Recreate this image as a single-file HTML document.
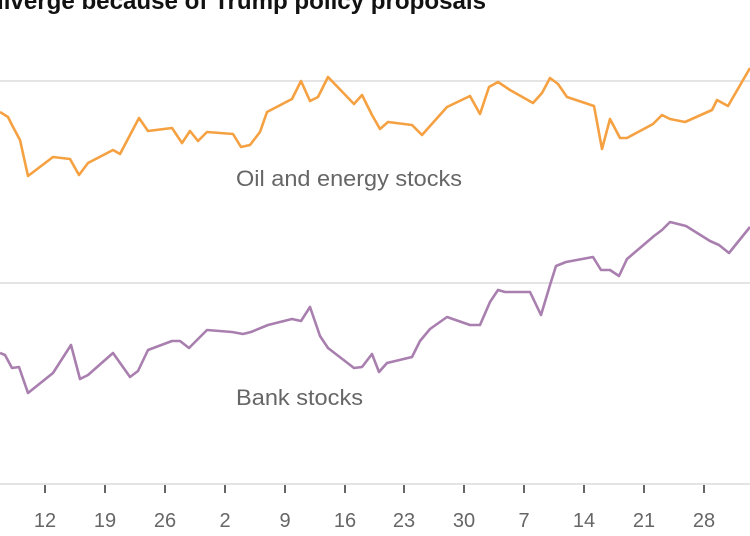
<!DOCTYPE html>
<html><head><meta charset="utf-8"><style>html,body{margin:0;padding:0;background:#fff;overflow:hidden}</style></head>
<body>
<svg width="750" height="536" xmlns="http://www.w3.org/2000/svg" style="display:block">
<text x="-11" y="9" font-family="Liberation Sans, sans-serif" font-weight="bold" font-size="24" fill="#121212" textLength="497" lengthAdjust="spacingAndGlyphs">diverge because of Trump policy proposals</text>
<g stroke="#dcdcdc" stroke-width="1.5">
<line x1="0" y1="81" x2="750" y2="81"/>
<line x1="0" y1="283" x2="750" y2="283"/>
<line x1="0" y1="484" x2="750" y2="484"/>
</g>
<g stroke="#333" stroke-width="1.5">
<line x1="45" y1="485" x2="45" y2="493"/><line x1="105" y1="485" x2="105" y2="493"/><line x1="165" y1="485" x2="165" y2="493"/><line x1="225" y1="485" x2="225" y2="493"/><line x1="285" y1="485" x2="285" y2="493"/><line x1="345" y1="485" x2="345" y2="493"/><line x1="404" y1="485" x2="404" y2="493"/><line x1="464" y1="485" x2="464" y2="493"/><line x1="524" y1="485" x2="524" y2="493"/><line x1="584" y1="485" x2="584" y2="493"/><line x1="644" y1="485" x2="644" y2="493"/><line x1="704" y1="485" x2="704" y2="493"/>
</g>
<g font-family="Liberation Sans, sans-serif" font-size="20" fill="#666" text-anchor="middle">
<text x="45" y="527">12</text><text x="105" y="527">19</text><text x="165" y="527">26</text><text x="225" y="527">2</text><text x="285" y="527">9</text><text x="345" y="527">16</text><text x="404" y="527">23</text><text x="464" y="527">30</text><text x="524" y="527">7</text><text x="584" y="527">14</text><text x="644" y="527">21</text><text x="704" y="527">28</text>
</g>
<polyline fill="none" stroke="#f5a142" stroke-width="2.6" stroke-linejoin="round" points="0,112 8,117 12,125 20,140 28,176 53,157 70,159 79,175 88,163 113,150 120,154 139,118 148,131 172,128 182,143 190,131 198,141 207,132 233,134 241,147 250,145 260,132 267,112 292,99 301,81 310,101 318,97 328,77 354,104 362,95 372,115 380,129 388,122 412,125 422,135 447,107 470,96 480,114 489,87 498,82 510,90 533,103 542,93 550,78 558,84 567,97 594,106 602,149 610,119 620,138 627,138 653,124 662,115 670,119 685,122 712,110 717,100 728,106 750,68"/>
<polyline fill="none" stroke="#a87fae" stroke-width="2.6" stroke-linejoin="round" points="0,353 5,355 12,368 19,367 28,393 53,373 71,345 80,379 88,375 113,353 130,377 138,371 148,350 172,341 180,341 189,348 207,330 232,332 243,334 251,332 268,325 292,319 301,321 310,307 320,336 328,348 354,368 362,367 372,354 379,372 387,363 412,357 420,341 430,329 447,317 470,325 480,325 490,302 498,290 505,292 530,292 541,315 550,285 556,266 566,262 593,257 601,270 610,270 619,276 627,259 654,236 662,230 670,222 686,226 710,241 719,245 729,253 750,227"/>
<g font-family="Liberation Sans, sans-serif" font-size="22" fill="#666">
<text x="236" y="186" textLength="226" lengthAdjust="spacingAndGlyphs">Oil and energy stocks</text>
<text x="236" y="405" textLength="127" lengthAdjust="spacingAndGlyphs">Bank stocks</text>
</g>
</svg>
</body></html>
